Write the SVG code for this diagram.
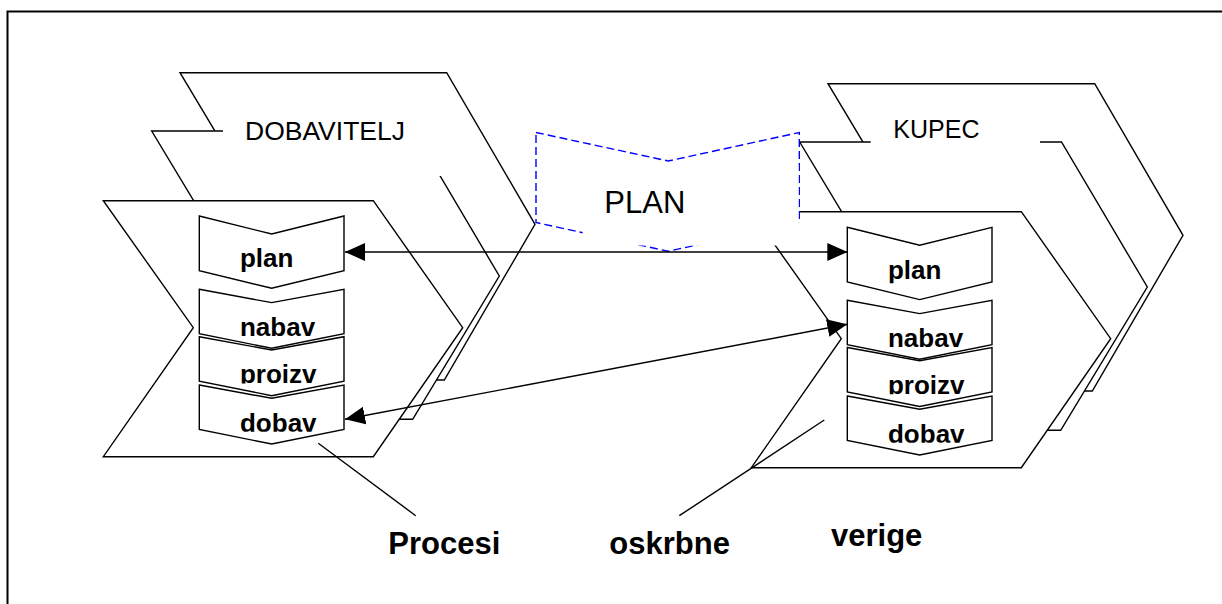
<svg xmlns="http://www.w3.org/2000/svg" width="1222" height="604" viewBox="0 0 1222 604">
<style>
.sh{fill:#fff;stroke:#000;stroke-width:1.4;stroke-linejoin:miter}
.tb{fill:#fff;stroke:none}
.ln{fill:none;stroke:#000;stroke-width:1.4}
.lbl{font-family:"Liberation Sans",Arial,sans-serif;font-size:25px;fill:#000}
.bl{font-family:"Liberation Sans",Arial,sans-serif;font-size:26px;font-weight:bold;fill:#000}
.big{font-family:"Liberation Sans",Arial,sans-serif;font-size:31px;font-weight:bold;fill:#000}
.plan{fill:#fff;stroke:#0000ff;stroke-width:1.4;stroke-dasharray:8,4}
</style>
<defs>
<marker id="ah" markerUnits="userSpaceOnUse" markerWidth="20" markerHeight="18" viewBox="0 0 20 18" refX="20" refY="9" orient="auto-start-reverse">
<path d="M0,0 L20,9 L0,18 z" fill="#000"/>
</marker>
<polygon id="chevS" points="0,0 72.4,13.3 144.7,0 144.7,44.5 72.4,59 0,44.5"/>
<polygon id="chevP" points="0,0 72.4,18 144.7,0 144.7,54.7 72.4,72.3 0,54.7"/>
<clipPath id="clS" clipPathUnits="userSpaceOnUse"><rect x="0" y="-4" width="144.7" height="50.8"/></clipPath>
<clipPath id="clP" clipPathUnits="userSpaceOnUse"><rect x="0" y="-4" width="144.7" height="60"/></clipPath>
</defs>
<path id="frame" d="M7.5,604 V11.5 H1222" fill="none" stroke="#000" stroke-width="2"/>

<g id="dobavitelj">
<polygon class="sh" points="180,72.7 446.7,72.7 535,224.3 444.3,380 177,380 270.8,224.3"/>
<polygon class="sh" points="151.7,131 413.5,131 499.3,276 412.7,419.3 151.7,419.3 239,276"/>
<rect class="tb" x="223" y="95" width="218" height="81"/>
<text class="lbl" x="245" y="140" textLength="160" lengthAdjust="spacingAndGlyphs">DOBAVITELJ</text>
<polygon class="sh" points="103.3,200.7 373.3,200.7 462.7,327.7 373.3,456.7 103.3,456.7 193.3,327.7"/>
</g>

<g id="kupec">
<g transform="translate(648,11)">
<polygon class="sh" points="180,72.7 446.7,72.7 535,224.3 444.3,380 177,380 270.8,224.3"/>
<polygon class="sh" points="151.7,131 413.5,131 499.3,276 412.7,419.3 151.7,419.3 239,276"/>
<rect class="tb" x="222.7" y="89" width="169.3" height="80"/>
<polygon class="sh" points="103.3,200.7 373.3,200.7 462.7,327.7 373.3,456.7 103.3,456.7 193.3,327.7"/>
</g>
<text class="lbl" x="893.3" y="137.7">KUPEC</text>
</g>

<g id="plan-box">
<polygon class="plan" points="536,132.5 668.3,161 799.3,132.5 799.3,222 668.3,251.3 536,222.5"/>
<rect class="tb" x="582.7" y="165" width="215.8" height="80.5"/>
<text x="604.3" y="213.3" font-family="Liberation Sans, Arial, sans-serif" font-size="31">PLAN</text>
</g>

<g id="l-plan" transform="translate(199.3,216)">
<use href="#chevP" class="sh"/>
<text class="bl" x="40.7" y="51.3" clip-path="url(#clP)">plan</text>
</g>
<g id="l-nabav" transform="translate(199.3,289.3)">
<use href="#chevS" class="sh"/>
<text class="bl" x="40.7" y="46.6" clip-path="url(#clS)">nabav</text>
</g>
<g id="l-proizv" transform="translate(199.3,336.7)">
<use href="#chevS" class="sh"/>
<text class="bl" x="40.7" y="46.6" clip-path="url(#clS)">proizv</text>
</g>
<g id="l-dobav" transform="translate(199.3,385)">
<use href="#chevS" class="sh"/>
<text class="bl" x="40.7" y="46.6" clip-path="url(#clS)">dobav</text>
</g>

<g id="r-plan" transform="translate(847.3,227.3)">
<use href="#chevP" class="sh"/>
<text class="bl" x="40.7" y="51.3" clip-path="url(#clP)">plan</text>
</g>
<g id="r-nabav" transform="translate(847.3,300.3)">
<use href="#chevS" class="sh"/>
<text class="bl" x="40.7" y="46.6" clip-path="url(#clS)">nabav</text>
</g>
<g id="r-proizv" transform="translate(847.3,347.5)">
<use href="#chevS" class="sh"/>
<text class="bl" x="40.7" y="46.6" clip-path="url(#clS)">proizv</text>
</g>
<g id="r-dobav" transform="translate(847.3,396)">
<use href="#chevS" class="sh"/>
<text class="bl" x="40.7" y="46.6" clip-path="url(#clS)">dobav</text>
</g>

<g id="connectors">
<line class="ln" x1="345" y1="252" x2="847.3" y2="252" marker-start="url(#ah)" marker-end="url(#ah)"/>
<line class="ln" x1="345" y1="419.3" x2="847.3" y2="324.3" marker-start="url(#ah)" marker-end="url(#ah)"/>
<line class="ln" x1="318.3" y1="443.3" x2="415.7" y2="515.7"/>
<line class="ln" x1="679.3" y1="515.7" x2="824.3" y2="420"/>
</g>

<g id="captions">
<text class="big" x="388.3" y="554">Procesi</text>
<text class="big" x="609.3" y="554">oskrbne</text>
<text class="big" x="831" y="546">verige</text>
</g>
</svg>
